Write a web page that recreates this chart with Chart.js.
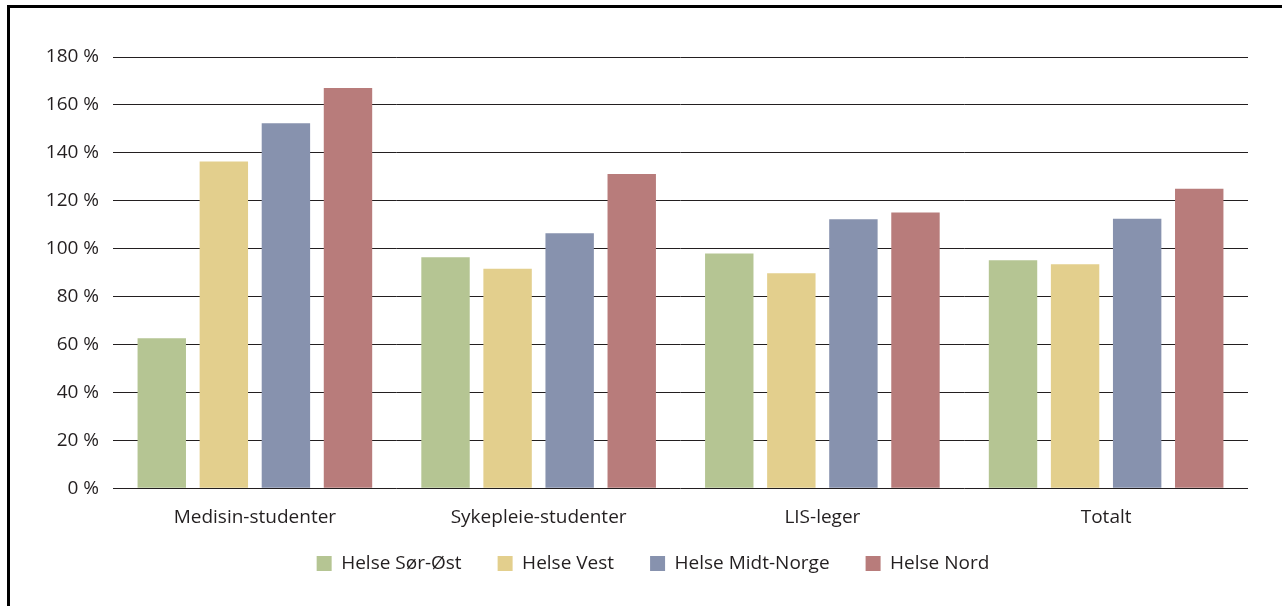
<!DOCTYPE html>
<html>
<head>
<meta charset="utf-8">
<script src="https://cdn.jsdelivr.net/npm/chart.js@4"></script>
<style>
  html, body { margin: 0; padding: 0; background: #fff; }
  #wrap { position: relative; width: 1282px; height: 606px; overflow: hidden; }
  #frame { position: absolute; left: 7px; top: 5px; width: 1400px; height: 800px; border: 3px solid #000; box-sizing: border-box; }
  canvas { position: absolute; left: 0; top: 0; }
</style>
</head>
<body>
<div id="wrap">
  <div id="frame"></div>
  <canvas id="c" width="1282" height="606"></canvas>
</div>
<script>
const categories = ["Medisin-studenter", "Sykepleie-studenter", "LIS-leger", "Totalt"];
const seriesNames = ["Helse Sør-Øst", "Helse Vest", "Helse Midt-Norge", "Helse Nord"];
const helseSorOst = [62.6, 96.4, 98, 95.2];
const helseVest = [136.4, 91.6, 89.7, 93.5];
const helseMidtNorge = [152.3, 106.4, 112.3, 112.5];
const helseNord = [167.1, 131.2, 115.1, 125];
const yTicks = [0, 20, 40, 60, 80, 100, 120, 140, 160, 180];
const colors = ["#b5c593", "#e3cf8d", "#8792ae", "#b87c7b"];

const textColor = "#231f20";
const fontFamily = "'Open Sans', sans-serif";
const fontSize = 19;

const legendShift = {
  id: 'legendShift',
  afterLayout(chart) {
    const lg = chart.legend;
    if (lg && !lg._patched) {
      const orig = lg.draw;
      lg.draw = function (...a) {
        const ctx = chart.ctx;
        ctx.save();
        ctx.translate(29, -21);
        orig.apply(this, a);
        ctx.restore();
      };
      lg._patched = true;
    }
  }
};

const values = [helseSorOst, helseVest, helseMidtNorge, helseNord];
new Chart(document.getElementById('c'), {
  type: 'bar',
  data: {
    labels: categories,
    datasets: seriesNames.map((name, i) => ({
      label: name,
      data: values[i],
      backgroundColor: colors[i],
      borderWidth: 0,
      categoryPercentage: 0.875,
      barPercentage: 0.78
    }))
  },
  options: {
    responsive: false,
    animation: false,
    layout: { padding: { top: 57, right: 34, bottom: 2, left: 0 } },
    plugins: {
      tooltip: { enabled: false },
      legend: {
        position: 'bottom',
        labels: {
          color: textColor,
          font: { family: fontFamily, size: fontSize },
          boxWidth: 15,
          boxHeight: 15,
          padding: 36
        }
      }
    },
    scales: {
      x: {
        grid: { display: false },
        border: { display: false },
        ticks: {
          color: textColor,
          font: { family: fontFamily, size: fontSize },
          padding: 10
        }
      },
      y: {
        min: 0,
        max: 180,
        afterBuildTicks(scale) { scale.ticks = yTicks.map(v => ({ value: v })); },
        afterFit(scale) { scale.width = 113; },
        grid: { color: textColor, lineWidth: 1, drawTicks: false },
        border: { display: false },
        ticks: {
          color: textColor,
          font: { family: fontFamily, size: fontSize },
          padding: 14,
          callback: v => v + ' %'
        }
      }
    }
  },
  plugins: [legendShift]
});
</script>
</body>
</html>
